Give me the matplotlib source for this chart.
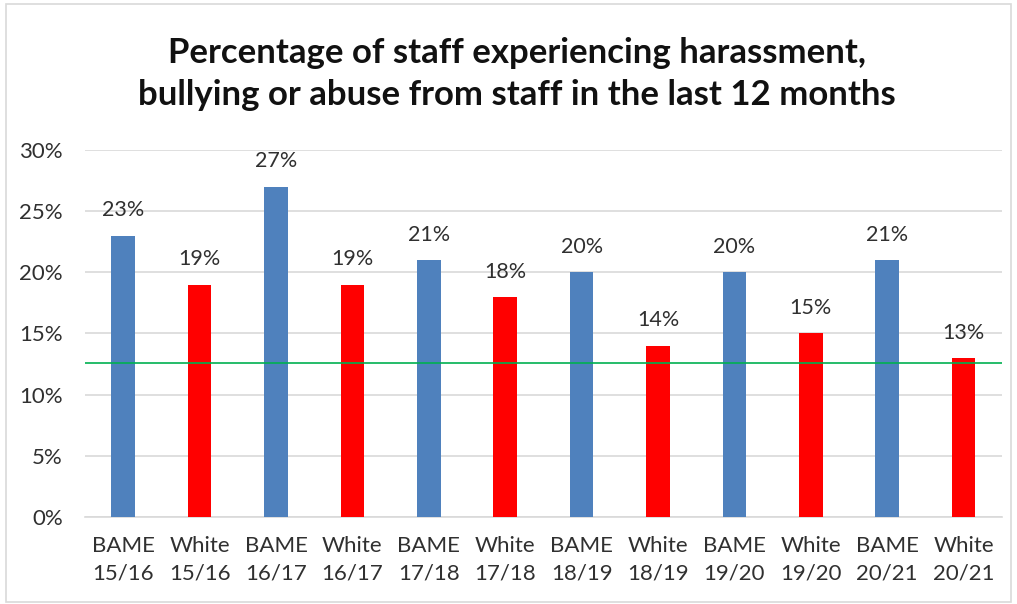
import matplotlib.pyplot as plt
from matplotlib.patches import Rectangle
from matplotlib.ticker import FuncFormatter

plt.rcParams['font.family'] = ['Lato', 'DejaVu Sans']

# Dados do inquerito (percentagem de pessoal)
categorias = ["BAME\n15/16", "White\n15/16", "BAME\n16/17", "White\n16/17",
              "BAME\n17/18", "White\n17/18", "BAME\n18/19", "White\n18/19",
              "BAME\n19/20", "White\n19/20", "BAME\n20/21", "White\n20/21"]
valores = [23, 19, 27, 19, 21, 18, 20, 14, 20, 15, 21, 13]
grupos = ["BAME", "White"] * 6
referencia = 12.6

CORES = {"BAME": "#4F81BD", "White": "#FF0000"}
CINZA_TEXTO = '#303030'

fig = plt.figure(figsize=(10.17, 6.04), dpi=100)
ax = fig.add_axes([0.0836, 0.144, 0.9014, 0.6077])

x = list(range(len(categorias)))
cores = [CORES[g] for g in grupos]
barras = ax.bar(x, valores, width=0.31, color=cores, zorder=3)

for b, v in zip(barras, valores):
    ax.annotate(f"{v}%", (b.get_x() + b.get_width() / 2, v),
                xytext=(0, 11), textcoords='offset points',
                ha='center', va='bottom', fontsize=15.5, color=CINZA_TEXTO)

ax.axhline(referencia, color='#00B050', linewidth=1.2, zorder=4)

ax.set_xlim(-0.5, len(categorias) - 0.5)
ax.set_ylim(0, 30)
ax.set_yticks(range(0, 31, 5))
ax.yaxis.set_major_formatter(FuncFormatter(lambda v, _: f"{v:.0f}%"))
ax.set_xticks(x)
ax.set_xticklabels(categorias, fontsize=16, color=CINZA_TEXTO, linespacing=1.45)
ax.tick_params(axis='y', length=0, pad=16, labelsize=16, labelcolor=CINZA_TEXTO)
ax.tick_params(axis='x', length=0, pad=14)
ax.grid(axis='y', color='#D9D9D9', linewidth=1.2, zorder=0)

for lado in ['top', 'right', 'left']:
    ax.spines[lado].set_visible(False)
ax.spines['bottom'].set_color('#D9D9D9')
ax.spines['bottom'].set_linewidth(1.2)

fig.text(0.508, 0.877,
         "Percentage of staff experiencing harassment,\n"
         "bullying or abuse from staff in the last 12 months",
         ha='center', va='center', fontsize=25, fontweight='bold',
         color='#111111', linespacing=1.4)

# moldura do grafico
fig.patches.append(Rectangle((0.006, 0.004), 0.988, 0.99, transform=fig.transFigure,
                             fill=False, edgecolor='#D9D9D9', linewidth=1.2))

fig.savefig("out.png", dpi=100)
